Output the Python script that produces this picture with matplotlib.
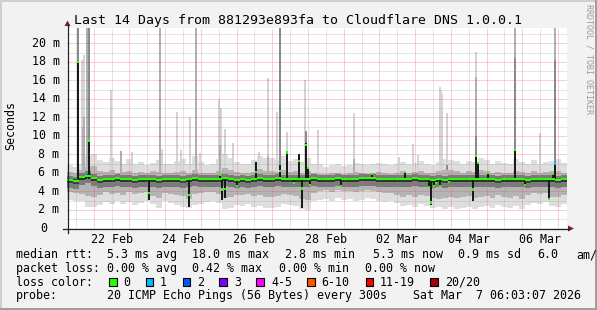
import numpy as np
import matplotlib
matplotlib.use("Agg")
import matplotlib.pyplot as plt
from matplotlib.patches import Rectangle, Polygon
from matplotlib.transforms import Affine2D, blended_transform_factory

# ---------------- data ----------------
title = "Last 14 Days from 881293e893fa to Cloudflare DNS 1.0.0.1"
y_ticks = [0, 2, 4, 6, 8, 10, 12, 14, 16, 18, 20]
y_tick_labels = ["0", "2 m", "4 m", "6 m", "8 m", "10 m", "12 m", "14 m", "16 m", "18 m", "20 m"]
# days after 21 Feb 00:00
x_tick_days = [1.5, 3.5, 5.5, 7.5, 9.5, 11.5, 13.5]
x_tick_labels = ["22 Feb", "24 Feb", "26 Feb", "28 Feb", "02 Mar", "04 Mar", "06 Mar"]
view_start = 0.2521      # 21 Feb 06:03
view_days = 14
y_top = 21.65

# smoke, 4-hour bins starting 21 Feb 06:00 (values in ms)
bin_start = 0.25
bin_days = 1 / 6
median = [5.2, 5.1, 5.5, 5.7, 5.4, 5.2, 5.3, 5.3, 5.4, 5.3, 5.3, 5.2, 5.3, 5.3, 5.3, 5.2, 5.3,
          5.3, 5.3, 5.2, 5.3, 5.4, 5.3, 5.3, 5.3, 5.3, 5.4, 5.3, 5.2, 5.3, 5.2, 5.3, 5.4, 5.3,
          5.3, 5.4, 5.3, 5.3, 5.3, 5.3, 5.3, 5.4, 5.3, 5.3, 5.3, 5.4, 5.3, 5.3, 5.3, 5.4, 5.4,
          5.4, 5.3, 5.3, 5.3, 5.3, 5.3, 5.3, 5.4, 5.3, 5.3, 5.2, 5.3, 5.2, 5.3, 5.3, 5.3, 5.3,
          5.3, 5.3, 5.3, 5.3, 5.2, 5.3, 5.3, 5.3, 5.3, 5.2, 5.3, 5.3, 5.3, 5.3, 5.2, 5.3]
lo_outer = [3.1, 3.0, 2.9, 2.3, 2.3, 2.5, 2.8, 2.6, 2.9, 2.6, 2.8, 2.5, 2.7, 3.0, 2.6, 2.2, 2.9,
            2.7, 2.5, 2.3, 2.2, 2.5, 2.6, 2.8, 2.9, 2.7, 2.1, 2.2, 2.5, 2.4, 2.6, 2.3, 2.4, 2.2,
            2.2, 2.3, 2.6, 2.5, 2.4, 2.1, 2.0, 2.9, 3.1, 3.2, 3.0, 3.3, 3.1, 3.2, 3.0, 3.1, 3.3,
            3.2, 3.0, 2.8, 2.9, 2.7, 2.4, 2.5, 2.3, 2.6, 2.4, 2.2, 2.3, 2.1, 2.3, 2.1, 2.2, 2.3,
            2.1, 2.3, 2.4, 2.2, 2.5, 2.3, 2.2, 2.4, 2.1, 2.5, 2.7, 2.6, 2.8, 2.4, 2.3, 2.6]
hi_outer = [6.8, 6.6, 7.0, 7.8, 8.0, 7.4, 7.2, 7.6, 7.3, 7.0, 7.5, 6.9, 7.2, 6.8, 7.1, 7.4, 6.9,
            6.9, 7.3, 7.5, 7.0, 7.8, 7.2, 6.8, 7.0, 7.5, 8.0, 7.6, 7.2, 6.9, 7.0, 7.4, 7.8, 7.6,
            7.6, 7.4, 7.8, 7.3, 7.5, 7.2, 7.6, 7.0, 6.9, 6.6, 6.8, 6.9, 6.7, 6.8, 7.1, 6.9, 6.8,
            6.9, 7.1, 6.9, 6.8, 7.0, 7.2, 6.9, 7.1, 7.3, 7.0, 6.8, 7.2, 7.5, 7.4, 7.3, 7.0, 7.3,
            7.2, 7.6, 7.4, 7.0, 7.3, 7.1, 6.9, 7.5, 7.2, 7.0, 7.4, 7.0, 7.2, 7.3, 7.5, 7.1]
lo_mid = [3.9, 3.8, 3.7, 3.5, 3.4, 3.6, 3.9, 3.7, 3.8, 3.6, 3.9, 3.7, 3.8, 3.9, 3.5, 3.3, 3.8,
          3.7, 3.6, 3.5, 3.2, 3.7, 3.8, 3.9, 3.9, 3.7, 3.3, 3.4, 3.6, 3.6, 3.7, 3.5, 3.6, 3.4,
          3.4, 3.5, 3.7, 3.6, 3.5, 3.2, 3.1, 3.8, 4.0, 4.1, 3.9, 4.1, 4.0, 4.0, 3.9, 4.0, 4.1,
          4.0, 3.9, 3.8, 3.8, 3.6, 3.4, 3.6, 3.4, 3.6, 3.5, 3.3, 3.2, 3.3, 3.4, 3.3, 3.4, 3.5,
          3.3, 3.4, 3.5, 3.3, 3.6, 3.4, 3.3, 3.5, 3.2, 3.6, 3.8, 3.7, 3.8, 3.4, 3.4, 3.6]
hi_mid = [6.1, 6.0, 6.3, 6.6, 6.7, 6.2, 6.1, 6.3, 6.0, 6.1, 6.2, 6.0, 6.1, 6.0, 6.2, 6.1, 6.0,
          6.0, 6.1, 6.2, 6.0, 6.3, 6.0, 6.0, 6.0, 6.2, 6.5, 6.3, 6.1, 6.0, 6.0, 6.1, 6.4, 6.2,
          6.2, 6.1, 6.3, 6.1, 6.2, 6.0, 6.2, 6.0, 5.9, 5.9, 6.0, 6.0, 5.9, 6.0, 6.1, 6.0, 5.9,
          6.0, 6.1, 6.0, 5.9, 6.0, 6.2, 6.0, 6.1, 6.2, 6.0, 6.0, 6.2, 6.3, 6.3, 6.2, 6.0, 6.2,
          6.1, 6.3, 6.2, 6.0, 6.1, 6.0, 6.0, 6.2, 6.1, 6.0, 6.2, 6.0, 6.1, 6.2, 6.2, 6.0]

# narrow smoke spikes: time (days), top (ms), shade (0 light, 1 mid, 2 dark)
spike_t = [0.561, 0.673, 0.700, 0.740, 0.720, 0.813, 0.855, 1.487, 1.767, 2.076, 2.862,
           2.918, 3.338, 3.450, 3.703, 3.872, 3.984, 4.520, 4.560, 4.540, 4.685, 4.910,
           5.640, 5.890, 5.870, 6.120, 6.214, 6.425, 6.930, 6.958, 7.270, 8.280, 8.280,
           9.540, 9.930, 10.070, 10.690, 10.720, 10.746, 10.880, 10.900, 11.700, 11.700,
           11.700, 12.790, 12.790, 13.500, 13.917, 13.917]
spike_top = [25, 18.2, 11.0, 18.7, 12.0, 25, 25, 15.0, 8.4, 8.2, 25,
             8.6, 12.6, 8.5, 12.0, 25, 8.1, 14.0, 13.0, 9.0, 10.7, 9.2,
             8.3, 16.2, 7.8, 12.6, 25, 10.4, 16.0, 10.5, 10.6, 12.5, 7.5,
             7.7, 9.1, 7.9, 15.3, 15.0, 14.5, 12.5, 6.8, 19.1, 16.3,
             10.0, 25, 18.4, 10.3, 25, 18.2]
spike_shade = [2, 0, 1, 0, 1, 1, 2, 0, 1, 0, 1,
               0, 0, 0, 0, 1, 0, 0, 0, 1, 0, 0,
               0, 0, 1, 0, 2, 0, 0, 2, 0, 0, 1,
               0, 0, 0, 0, 0, 0, 0, 2, 0, 1,
               2, 1, 2, 0, 1, 2]

# median excursions: time (days), median (ms), extent of dark bar (ms), lost pings index
event_t = [0.561, 0.785, 0.869, 2.553, 3.675, 4.545, 4.601, 4.685, 5.022, 5.555, 6.214,
           6.425, 6.621, 6.762, 6.830, 6.958, 7.014, 7.070, 7.912, 8.782, 9.708, 10.380,
           10.437, 10.520, 10.577, 10.690, 10.940, 11.616, 11.700, 11.756, 12.040, 12.790,
           13.075, 13.748, 13.860, 13.917]
event_med = [18.0, 5.9, 9.5, 3.85, 3.6, 5.8, 4.2, 4.25, 4.6, 6.1, 6.2,
             8.2, 4.9, 7.3, 4.3, 9.0, 6.5, 4.7, 4.6, 5.9, 6.1, 4.5,
             2.8, 4.6, 4.9, 4.6, 5.0, 4.2, 7.8, 7.1, 6.0, 8.5,
             4.7, 3.2, 5.9, 7.0]
event_ext = [18.0, 5.9, 9.5, 3.1, 2.3, 5.8, 3.1, 3.3, 4.6, 7.2, 6.8,
             8.3, 4.9, 8.0, 2.2, 9.2, 6.5, 4.7, 4.6, 6.0, 6.1, 4.5,
             2.5, 4.6, 4.9, 4.6, 5.0, 3.0, 7.8, 7.1, 6.0, 8.5,
             4.7, 3.1, 5.9, 7.1]
event_loss = [0, 1, 0, 0, 0, 0, 0, 0, 0, 0, 0,
              0, 0, 0, 0, 0, 0, 0, 0, 0, 0, 0,
              0, 0, 0, 0, 0, 0, 0, 0, 0, 0,
              0, 0, 0, 1]

loss_labels = ["0", "1", "2", "3", "4-5", "6-10", "11-19", "20/20"]
loss_colors = ["#26ff00", "#00b8ff", "#0059ff", "#7e00ff", "#ff00ff", "#ff5500", "#ff0000", "#a00000"]

legend_rtt = [("median rtt:", 16), ("5.3 ms avg", 107), ("18.0 ms max", 191.7), ("2.8 ms min", 285),
              ("5.3 ms now", 372.7), ("0.9 ms sd", 458.3), ("6.0", 537.3), ("am/", 576.0)]
legend_loss = [("packet loss:", 16), ("0.00 % avg", 107), ("0.42 % max", 191.7),
               ("0.00 % min", 279.3), ("0.00 % now", 365.3)]
legend_probe = [("probe:", 16), ("20 ICMP Echo Pings (56 Bytes) every 300s", 107),
                ("Sat Mar  7 06:03:07 2026", 413)]

# ---------------- drawing ----------------
W, H, DPI = 597, 310, 100
fig = plt.figure(figsize=(W / DPI, H / DPI), dpi=DPI)
fig.patch.set_facecolor("#f2f2f2")
PX = Affine2D().scale(1.0 / W, -1.0 / H).translate(0, 1) + fig.transFigure

GX0, GX1, GY0, GY1 = 67, 567, 28, 228.3
ax = fig.add_axes([GX0 / W, 1 - GY1 / H, (GX1 - GX0) / W, (GY1 - GY0) / H])
ax.set_facecolor("white")
ax.set_xlim(view_start, view_start + view_days)
ax.set_ylim(0, y_top)
for s in ax.spines.values():
    s.set_visible(False)
ax.set_yticks([])
ax.set_xticks(x_tick_days)
ax.set_xticklabels(x_tick_labels, family="DejaVu Sans Mono", fontsize=8.37)
ax.tick_params(axis="x", length=0, pad=3.4)

px_day = (GX1 - GX0) / view_days
one_px = 1.0 / px_day

n = len(median)
edges = bin_start + np.arange(n + 1) * bin_days
def stepped(a):
    a = np.asarray(a, float)
    return np.append(a, a[-1])

med = np.asarray(median)
ax.fill_between(edges, stepped(lo_outer), stepped(hi_outer), step="post", color="#dedede", lw=0, zorder=1)

shade_col = ["#d4d4d4", "#b0b0b0", "#8a8a8a"]
for t, top, sh in zip(spike_t, spike_top, spike_shade):
    ax.bar(t, top - 5.0, bottom=5.0, width=2 * one_px, color=shade_col[sh], lw=0, zorder=1.5 + 0.1 * sh)

ax.fill_between(edges, stepped(lo_mid), stepped(hi_mid), step="post", color="#b4b4b4", lw=0, zorder=2)
ax.fill_between(edges, stepped(med - 0.85), stepped(med + 0.45), step="post", color="#7a7a7a", lw=0, zorder=3)
ax.fill_between(edges, stepped(med - 0.3), stepped(med + 0.18), step="post", color="#333333", lw=0, zorder=3.5)

# grid (dotted, 1 px on / 1 px off)
dot = (0, (1, 1))
gkw = dict(lw=0.72, ls=dot, zorder=4)
minor_c = (0.56, 0.56, 0.56, 0.45)
major_c = (0.87, 0.31, 0.31, 0.5)
for v in np.arange(1, y_top, 2):
    ax.axhline(v, color=minor_c, **gkw)
for v in np.arange(2, y_top, 2):
    ax.axhline(v, color=major_c, **gkw)
for d in np.arange(0.5, 14.3, 1.0):
    if view_start < d < view_start + view_days:
        ax.axvline(d, color=minor_c, **gkw)
for d in np.arange(1, 15, 1.0):
    if view_start < d < view_start + view_days:
        ax.axvline(d, color=major_c, **gkw)

# median line
ax.fill_between(edges, stepped(med - 0.11), stepped(med + 0.11), step="post", color=loss_colors[0], lw=0, zorder=6)

# median excursions
for t, m, e, l in zip(event_t, event_med, event_ext, event_loss):
    lo, hi = min(5.3, e, m), max(5.3, e, m)
    ax.bar(t, hi - lo, bottom=lo, width=2 * one_px, color="#1a1a1a", lw=0, zorder=5)
    ax.bar(t, 0.24, bottom=m - 0.12, width=2 * one_px, color=loss_colors[l], lw=0, zorder=7)

# axes lines and arrows
axis_c = "#1f1f1f"
arrow_c = "#801f1f"
fig.add_artist(plt.Line2D([63, 569], [228.5, 228.5], transform=PX, color=axis_c, lw=0.9))
fig.add_artist(plt.Line2D([67.5, 67.5], [232.5, 25], transform=PX, color=axis_c, lw=0.9))
fig.add_artist(Polygon([[568, 225.5], [568, 231.5], [574, 228.5]], closed=True, transform=PX,
                       facecolor=arrow_c, edgecolor="none"))
fig.add_artist(Polygon([[64.5, 26], [70.5, 26], [67.5, 20.5]], closed=True, transform=PX,
                       facecolor=arrow_c, edgecolor="none"))

MONO = "DejaVu Sans Mono"
FS = 8.37
# y tick labels
ytr = blended_transform_factory(PX, ax.transData)
for v, lab in zip(y_ticks, y_tick_labels):
    xr = 59.5 if v else 46.8
    ax.text(xr, v, lab, transform=ytr, ha="right", va="center", family=MONO, fontsize=FS, clip_on=False)

fig.text(298.5, 24, title, transform=PX, ha="center", va="baseline", family=MONO, fontsize=9.57)
fig.text(11, 126, "Seconds", transform=PX, ha="center", va="center", rotation=90, family=MONO, fontsize=FS)
fig.text(588.5, 59, "RRDTOOL / TOBI OETIKER", transform=PX, ha="center", va="center", rotation=270,
         family=MONO, fontsize=6.0, color="#9a9a9a")

for s, x in legend_rtt:
    fig.text(x, 258.3, s, transform=PX, ha="left", va="baseline", family=MONO, fontsize=FS)
for s, x in legend_loss:
    fig.text(x, 272.0, s, transform=PX, ha="left", va="baseline", family=MONO, fontsize=FS)
fig.text(16, 285.7, "loss color:", transform=PX, ha="left", va="baseline", family=MONO, fontsize=FS)
box_x = [109, 145.7, 182.7, 219.3, 256, 307.3, 365.7, 430]
lab_x = [123.3, 160, 197.3, 234.3, 271, 321.7, 380, 445]
for bx, lx, c, lab in zip(box_x, lab_x, loss_colors, loss_labels):
    fig.add_artist(Rectangle((bx, 278), 7.5, 7.5, transform=PX, facecolor=c, edgecolor="black", lw=0.8))
    fig.text(lx, 285.7, lab, transform=PX, ha="left", va="baseline", family=MONO, fontsize=FS)
for s, x in legend_probe:
    fig.text(x, 299.4, s, transform=PX, ha="left", va="baseline", family=MONO, fontsize=FS)

# 3d frame
fig.add_artist(Rectangle((0, 0), W, 2, transform=PX, facecolor="#cfcfcf", edgecolor="none"))
fig.add_artist(Rectangle((0, 0), 2, H, transform=PX, facecolor="#cfcfcf", edgecolor="none"))
fig.add_artist(Rectangle((0, H - 2), W, 2, transform=PX, facecolor="#9e9e9e", edgecolor="none"))
fig.add_artist(Rectangle((W - 2, 0), 2, H, transform=PX, facecolor="#9e9e9e", edgecolor="none"))

fig.savefig("out.png", dpi=DPI, facecolor=fig.get_facecolor())
